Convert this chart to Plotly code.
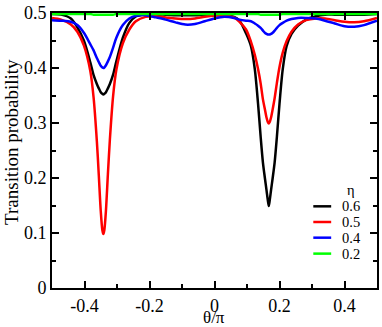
import plotly.graph_objects as go

# theta / pi sample positions
theta = [
    -0.50, -0.472, -0.442, -0.422, -0.402, -0.382, -0.372, -0.362, -0.356, -0.350, -0.345,
    -0.342, -0.339, -0.334, -0.328, -0.322, -0.312, -0.302, -0.282, -0.262, -0.242, -0.212,
    -0.18, -0.15, -0.12, -0.09, -0.06, -0.03, 0.0, 0.03,
    0.06, 0.077, 0.097, 0.112, 0.124, 0.134, 0.142, 0.149, 0.155, 0.160, 0.164, 0.167,
    0.170, 0.174, 0.179, 0.185, 0.192, 0.200, 0.210, 0.222, 0.237, 0.257, 0.282, 0.312,
    0.34, 0.37, 0.40, 0.43, 0.46, 0.50,
]

p_eta06 = [
    0.498, 0.497, 0.490, 0.474, 0.450, 0.410, 0.387, 0.371, 0.363, 0.356, 0.353,
    0.352, 0.353, 0.356, 0.363, 0.371, 0.388, 0.412, 0.455, 0.482, 0.494, 0.497,
    0.497, 0.497, 0.496, 0.496, 0.496, 0.497, 0.497, 0.497,
    0.493, 0.486, 0.463, 0.440, 0.398, 0.335, 0.275, 0.228, 0.200, 0.178, 0.160, 0.149,
    0.160, 0.178, 0.200, 0.228, 0.275, 0.335, 0.398, 0.440, 0.462, 0.477, 0.488, 0.494,
    0.497, 0.497, 0.497, 0.497, 0.497, 0.498,
]

p_eta05 = [
    0.491, 0.488, 0.479, 0.466, 0.441, 0.394, 0.346, 0.267, 0.205, 0.140, 0.105,
    0.098, 0.105, 0.141, 0.207, 0.269, 0.349, 0.397, 0.445, 0.470, 0.485, 0.493,
    0.494, 0.492, 0.490, 0.489, 0.490, 0.493, 0.495, 0.495,
    0.492, 0.484, 0.470, 0.448, 0.424, 0.398, 0.372, 0.343, 0.325, 0.310, 0.302, 0.299,
    0.302, 0.310, 0.325, 0.345, 0.373, 0.402, 0.428, 0.449, 0.466, 0.479, 0.487, 0.490,
    0.490, 0.487, 0.484, 0.483, 0.485, 0.491,
]

p_eta04 = [
    0.487, 0.486, 0.484, 0.478, 0.464, 0.443, 0.432, 0.418, 0.411, 0.404, 0.401,
    0.400, 0.401, 0.405, 0.412, 0.420, 0.437, 0.455, 0.478, 0.490, 0.495, 0.496,
    0.492, 0.488, 0.483, 0.479, 0.480, 0.485, 0.490, 0.493,
    0.491, 0.488, 0.486, 0.485, 0.481, 0.477, 0.473, 0.468, 0.464, 0.462, 0.461, 0.461,
    0.461, 0.462, 0.464, 0.468, 0.473, 0.478, 0.482, 0.486, 0.489, 0.491, 0.491, 0.490,
    0.486, 0.481, 0.476, 0.475, 0.478, 0.486,
]

p_eta02 = [
    0.498, 0.498, 0.498, 0.498, 0.498, 0.498, 0.497, 0.497, 0.497, 0.497, 0.497,
    0.497, 0.497, 0.497, 0.497, 0.497, 0.497, 0.498, 0.498, 0.498, 0.498, 0.498,
    0.498, 0.498, 0.498, 0.498, 0.498, 0.498, 0.498, 0.498,
    0.498, 0.498, 0.498, 0.498, 0.498, 0.498, 0.497, 0.497, 0.497, 0.497, 0.497, 0.497,
    0.497, 0.497, 0.497, 0.497, 0.497, 0.497, 0.498, 0.498, 0.498, 0.498, 0.498, 0.498,
    0.498, 0.498, 0.498, 0.498, 0.498, 0.498,
]

eta_labels = ["0.6", "0.5", "0.4", "0.2"]
series = [p_eta06, p_eta05, p_eta04, p_eta02]
colors = ["#000000", "#ff0000", "#0000ff", "#00ff00"]

x_tick_vals = [-0.4, -0.2, 0.0, 0.2, 0.4]
x_tick_text = ["-0.4", "-0.2", "0", "0.2", "0.4"]
y_tick_vals = [0.0, 0.1, 0.2, 0.3, 0.4, 0.5]
y_tick_text = ["0", "0.1", "0.2", "0.3", "0.4", "0.5"]

FONT = "Liberation Serif, Times New Roman, Times, DejaVu Serif, serif"

fig = go.Figure()
for vals, name, col in zip(series, eta_labels, colors):
    fig.add_trace(go.Scatter(
        x=theta, y=vals, mode="lines", name=name, showlegend=False,
        line=dict(color=col, width=2.5, shape="spline", smoothing=0.8),
    ))

axis_common = dict(
    showline=True, linecolor="black", linewidth=2, mirror="ticks",
    ticks="inside", ticklen=7, tickwidth=2, tickcolor="black",
    showgrid=False, zeroline=False, ticklabeloverflow="allow",
    tickfont=dict(family=FONT, size=18, color="black"),
)

fig.update_xaxes(
    range=[-0.5, 0.5], tickvals=x_tick_vals, ticktext=x_tick_text,
    minor=dict(ticks="inside", ticklen=4, tickwidth=2, tickcolor="black", dtick=0.1, tick0=0),
    ticklabelstandoff=0,
    **axis_common,
)
fig.update_yaxes(
    range=[0, 0.5], tickvals=y_tick_vals, ticktext=y_tick_text,
    minor=dict(ticks="inside", ticklen=4, tickwidth=2, tickcolor="black", dtick=0.05, tick0=0),
    **axis_common,
)

# x-axis title
fig.add_annotation(
    text="θ/π", showarrow=False, xref="paper", yref="paper", x=0.499, y=-0.109,
    xanchor="center", yanchor="middle", font=dict(family=FONT, size=17, color="black"),
)
# y-axis title
fig.add_annotation(
    text="Transition probability", textangle=-90, showarrow=False,
    xref="paper", yref="paper", x=-0.124, y=0.53, xanchor="center", yanchor="middle",
    font=dict(family=FONT, size=19, color="black"),
)

# legend (manual)
leg_rows_y = [0.297, 0.240, 0.183, 0.125]
fig.add_annotation(
    text="η", showarrow=False, xref="paper", yref="paper", x=0.92, y=0.355,
    xanchor="center", yanchor="middle", font=dict(family=FONT, size=14.5, color="black"),
)
for name, col, yy in zip(eta_labels, colors, leg_rows_y):
    fig.add_shape(type="line", xref="paper", yref="paper", x0=0.804, x1=0.859, y0=yy, y1=yy,
                  line=dict(color=col, width=2.5))
    fig.add_annotation(
        text=name, showarrow=False, xref="paper", yref="paper", x=0.886, y=yy,
        xanchor="left", yanchor="middle", font=dict(family=FONT, size=14.5, color="black"),
    )

fig.update_layout(
    width=382, height=327,
    margin=dict(l=52, r=3, t=9, b=39),
    paper_bgcolor="white", plot_bgcolor="white",
    showlegend=False,
)

fig.write_html(
    "out.html",
    config={"displayModeBar": False},
    post_script="document.body.style.margin='0';document.body.style.overflow='hidden';",
)
